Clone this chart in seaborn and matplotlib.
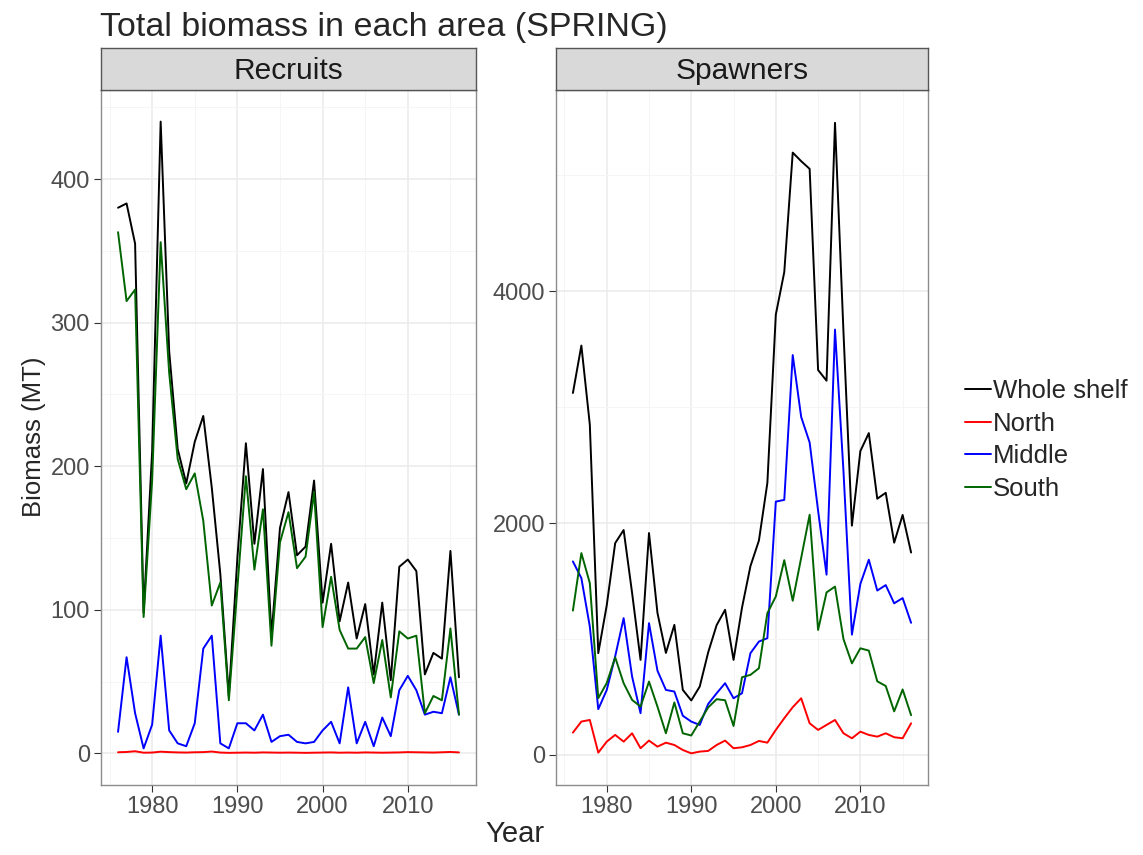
import matplotlib
matplotlib.use("Agg")
import matplotlib.pyplot as plt
from matplotlib.lines import Line2D
from matplotlib.ticker import MultipleLocator
import pandas as pd
import seaborn as sns

years = list(range(1976, 2017))

# Recruits (MT)
rec_whole = [380, 383, 355, 98, 210, 440, 280, 212, 188, 217, 235, 185, 125, 40, 136,
             216, 146, 198, 82, 157, 182, 138, 144, 190, 105, 146, 92, 119, 80, 104,
             55, 105, 51, 130, 135, 127, 55, 70, 66, 141, 53]
rec_north = [0.8, 1.0, 1.5, 0.5, 0.6, 1.2, 0.9, 0.7, 0.6, 0.8, 0.9, 1.3, 0.6, 0.4, 0.5,
             0.6, 0.5, 0.7, 0.6, 0.5, 0.6, 0.5, 0.4, 0.5, 0.6, 0.7, 0.5, 0.6, 0.5, 0.7,
             0.6, 0.5, 0.6, 0.7, 0.9, 0.8, 0.7, 0.6, 0.8, 1.0, 0.7]
rec_middle = [15, 67, 28, 3.5, 20, 82, 16, 7, 5, 21, 73, 82, 7, 3.5, 21,
              21, 16, 27, 8, 12, 13, 8, 7, 8, 16, 22, 7, 46, 7, 22,
              5, 25, 12, 44, 54, 44, 27, 29, 28, 53, 27]
rec_south = [363, 315, 323, 95, 190, 356, 265, 205, 184, 195, 162, 103, 119, 37, 115,
             193, 128, 170, 75, 147, 168, 129, 137, 182, 88, 123, 86, 73, 73, 81,
             49, 79, 39, 85, 80, 82, 28, 40, 37, 87, 27]

# Spawners (MT)
spw_whole = [3122, 3531, 2849, 878, 1290, 1827, 1940, 1398, 820, 1914, 1225, 880, 1122, 561, 470,
             590, 885, 1120, 1252, 820, 1270, 1629, 1849, 2346, 3798, 4165, 5195, 5121, 5055, 3320,
             3228, 5452, 3650, 1978, 2621, 2776, 2210, 2261, 1831, 2070, 1746]
spw_north = [193, 288, 302, 20, 115, 173, 115, 187, 58, 124, 72, 106, 86, 43, 14,
             29, 35, 86, 124, 58, 66, 86, 121, 106, 216, 317, 412, 489, 273, 216,
             259, 302, 187, 144, 201, 173, 158, 187, 153, 144, 273]
spw_middle = [1669, 1525, 1108, 395, 560, 850, 1180, 676, 360, 1137, 727, 561, 547, 338, 288,
              259, 440, 532, 619, 489, 532, 878, 978, 1007, 2185, 2200, 3449, 2915, 2695, 2107,
              1555, 3669, 2450, 1038, 1475, 1684, 1418, 1465, 1308, 1353, 1140]
spw_south = [1245, 1741, 1482, 490, 620, 842, 619, 475, 417, 633, 417, 187, 453, 187, 168,
             288, 410, 481, 472, 250, 670, 691, 748, 1223, 1367, 1680, 1330, 1700, 2072, 1078,
             1402, 1452, 1000, 790, 920, 900, 635, 595, 376, 565, 343]

areas = ["Whole shelf", "North", "Middle", "South"]
colors = {"Whole shelf": "black", "North": "#FF0000", "Middle": "#0000FF", "South": "#006400"}

rows = []
for stage, series in [("Recruits", [rec_whole, rec_north, rec_middle, rec_south]),
                      ("Spawners", [spw_whole, spw_north, spw_middle, spw_south])]:
    for area, vals in zip(areas, series):
        for yr, v in zip(years, vals):
            rows.append({"Year": yr, "Biomass": v, "area": area, "stage": stage})
df = pd.DataFrame(rows)

sns.set_style("white")
plt.rcParams["font.family"] = ["Liberation Sans", "DejaVu Sans"]

W, H = 1143, 855
fig = plt.figure(figsize=(W / 100, H / 100), dpi=100)

# panel boxes in pixels: (left, right)
panels = {"Recruits": (101, 476), "Spawners": (556, 928)}
top, bottom = 90, 785
strip_top = 48
ylims = {"Recruits": (-22, 462), "Spawners": (-259, 5735)}
ymajor = {"Recruits": 100, "Spawners": 2000}

for stage, (x0, x1) in panels.items():
    ax = fig.add_axes([x0 / W, 1 - bottom / H, (x1 - x0) / W, (bottom - top) / H])
    sns.lineplot(data=df[df.stage == stage], x="Year", y="Biomass", hue="area",
                 hue_order=areas, palette=colors, estimator=None, linewidth=1.4,
                 legend=False, ax=ax)
    ax.set_xlim(1974, 2018)
    ax.set_ylim(*ylims[stage])
    ax.xaxis.set_major_locator(MultipleLocator(10))
    ax.xaxis.set_minor_locator(MultipleLocator(5))
    ax.yaxis.set_major_locator(MultipleLocator(ymajor[stage]))
    ax.yaxis.set_minor_locator(MultipleLocator(ymajor[stage] / 2))
    ax.grid(which="major", color="#EBEBEB", linewidth=1.1)
    ax.grid(which="minor", color="#F5F5F5", linewidth=0.7)
    ax.set_axisbelow(True)
    ax.tick_params(which="major", length=5, width=0.8, color="#333333",
                   labelcolor="#4D4D4D", labelsize=17, pad=3, bottom=True, left=True)
    ax.tick_params(which="minor", length=0)
    ax.set_xlabel("")
    ax.set_ylabel("")
    for sp in ax.spines.values():
        sp.set_color("#8C8C8C")
        sp.set_linewidth(1.0)

    # facet strip
    sax = fig.add_axes([x0 / W, 1 - top / H, (x1 - x0) / W, (top - strip_top) / H])
    sax.set_facecolor("#D9D9D9")
    sax.set_xticks([])
    sax.set_yticks([])
    for sp in sax.spines.values():
        sp.set_color("#555555")
        sp.set_linewidth(1.0)
    sax.text(0.5, 0.45, stage, ha="center", va="center", fontsize=21.5, color="#1A1A1A",
             transform=sax.transAxes)

fig.text(100 / W, 1 - 36 / H, "Total biomass in each area (SPRING)", fontsize=24.5,
         ha="left", va="baseline")
fig.text(515 / W, 1 - 834 / H, "Year", fontsize=21, ha="center", va="center")
fig.text(34 / W, 1 - 437 / H, "Biomass (MT)", fontsize=18.5, ha="center", va="center",
         rotation=90)

handles = [Line2D([0], [0], color=colors[a], linewidth=1.4) for a in areas]
fig.legend(handles, areas, loc="center left", bbox_to_anchor=(965 / W, 1 - 440 / H),
           frameon=False, fontsize=18.5, handlelength=1.0, handletextpad=0.1,
           labelspacing=0.33, borderpad=0, borderaxespad=0)

fig.savefig("out.png", dpi=100)
